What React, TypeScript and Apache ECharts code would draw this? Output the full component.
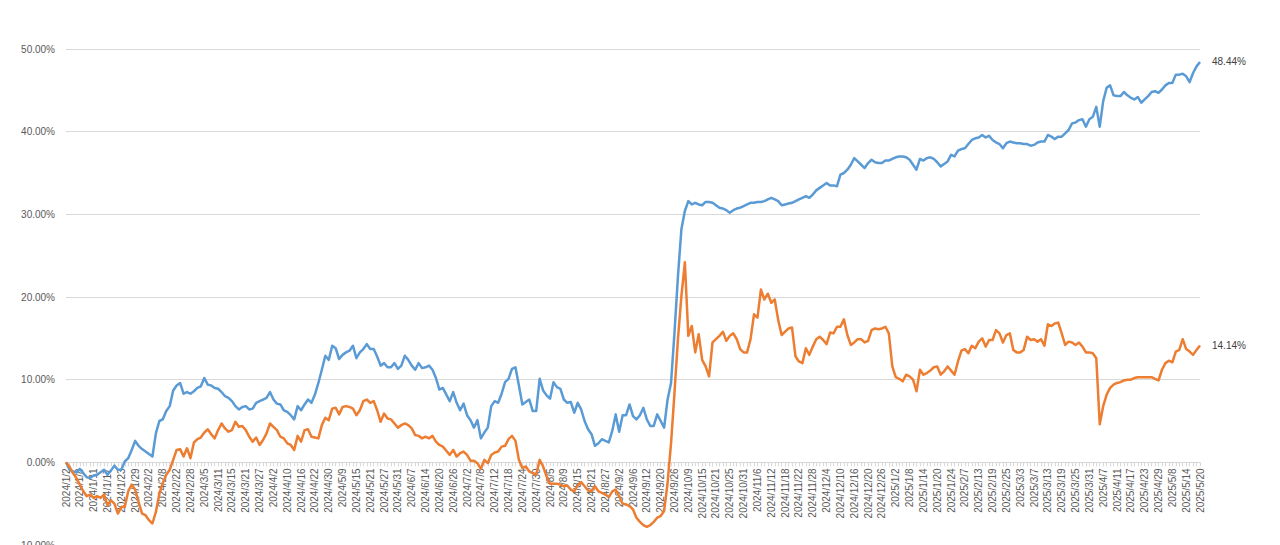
import React, { useEffect, useRef } from "react";
import * as echarts from "echarts";

const TICK_LABELS = [
  "2024/1/2", "2024/1/8", "2024/1/11", "2024/1/17", "2024/1/23", "2024/1/29", "2024/2/2", "2024/2/8",
  "2024/2/22", "2024/2/28", "2024/3/5", "2024/3/11", "2024/3/15", "2024/3/21", "2024/3/27", "2024/4/2",
  "2024/4/10", "2024/4/16", "2024/4/22", "2024/4/30", "2024/5/9", "2024/5/15", "2024/5/21", "2024/5/27",
  "2024/5/31", "2024/6/7", "2024/6/14", "2024/6/20", "2024/6/26", "2024/7/2", "2024/7/8", "2024/7/12",
  "2024/7/18", "2024/7/24", "2024/7/30", "2024/8/5", "2024/8/9", "2024/8/15", "2024/8/21", "2024/8/27",
  "2024/9/2", "2024/9/6", "2024/9/12", "2024/9/20", "2024/9/26", "2024/10/9", "2024/10/15", "2024/10/21",
  "2024/10/25", "2024/10/31", "2024/11/6", "2024/11/12", "2024/11/18", "2024/11/22", "2024/11/28", "2024/12/4",
  "2024/12/10", "2024/12/16", "2024/12/20", "2024/12/26", "2025/1/2", "2025/1/8", "2025/1/14", "2025/1/20",
  "2025/1/24", "2025/2/7", "2025/2/13", "2025/2/19", "2025/2/25", "2025/3/3", "2025/3/7", "2025/3/13",
  "2025/3/19", "2025/3/25", "2025/3/31", "2025/4/7", "2025/4/11", "2025/4/17", "2025/4/23", "2025/4/29",
  "2025/5/8", "2025/5/14", "2025/5/20",
];

const HOLIDAYS = [
  "2024/1/1", "2024/2/9", "2024/2/12", "2024/2/13", "2024/2/14", "2024/2/15", "2024/2/16",
  "2024/4/4", "2024/4/5", "2024/5/1", "2024/5/2", "2024/5/3", "2024/6/10", "2024/9/16", "2024/9/17",
  "2024/10/1", "2024/10/2", "2024/10/3", "2024/10/4", "2024/10/7", "2025/1/1", "2025/1/28", "2025/1/29",
  "2025/1/30", "2025/1/31", "2025/2/3", "2025/2/4", "2025/4/4", "2025/5/1", "2025/5/2", "2025/5/5",
];

// Cumulative return (%) — blue series
const SERIES_A = [
  0, -0.9, -1.1, -1.2, -0.8, -1.3, -1.8, -1.9, -1.6, -1.5,
  -1.2, -0.9, -1.5, -1.0, -0.4, -0.9, -0.9, 0.1, 0.5, 1.5,
  2.6, 2.0, 1.6, 1.3, 1.0, 0.7, 3.5, 5.0, 5.2, 6.2,
  6.8, 8.7, 9.3, 9.6, 8.3, 8.5, 8.3, 8.6, 9.0, 9.2,
  10.2, 9.4, 9.3, 9.0, 8.9, 8.5, 8.0, 7.8, 7.4, 6.8,
  6.4, 6.7, 6.8, 6.4, 6.5, 7.2, 7.4, 7.6, 7.8, 8.5,
  7.6, 7.1, 7.0, 6.3, 6.1, 5.7, 5.2, 6.8, 6.3, 7.0,
  7.6, 7.2, 8.2, 9.6, 11.2, 12.9, 12.4, 14.1, 13.8, 12.5,
  13.0, 13.3, 13.5, 14.1, 12.6, 13.3, 13.7, 14.3, 13.7, 13.7,
  12.8, 11.7, 12.0, 11.5, 11.5, 12.0, 11.3, 11.7, 12.9, 12.4,
  11.7, 11.2, 12.0, 11.4, 11.5, 11.7, 11.2, 10.2, 8.8, 9.0,
  8.2, 7.4, 8.5, 7.2, 6.3, 7.1, 5.7, 5.1, 4.2, 5.1,
  2.9, 3.6, 4.2, 6.8, 7.4, 7.2, 8.3, 9.7, 10.1, 11.3,
  11.5, 9.3, 7.0, 7.3, 7.6, 6.2, 6.2, 10.1, 8.7, 8.1,
  7.7, 9.7, 9.1, 8.9, 7.6, 7.2, 7.3, 6.0, 7.2, 6.4,
  5.0, 4.0, 3.4, 2.0, 2.3, 2.8, 2.6, 2.4, 3.8, 5.8,
  3.7, 5.7, 5.7, 7.0, 5.6, 5.2, 5.7, 6.6, 5.2, 4.4,
  4.4, 5.8, 5.0, 4.2, 7.6, 9.6, 15.7, 22.5, 28.2, 30.4,
  31.6, 31.2, 31.4, 31.2, 31.1, 31.5, 31.5, 31.4, 31.1, 30.8,
  30.7, 30.5, 30.2, 30.5, 30.7, 30.8, 31.0, 31.2, 31.4, 31.4,
  31.5, 31.5, 31.6, 31.8, 32.0, 31.8, 31.6, 31.1, 31.2, 31.3,
  31.4, 31.6, 31.8, 32.0, 32.2, 32.0, 32.4, 32.9, 33.2, 33.5,
  33.8, 33.5, 33.5, 33.4, 34.8, 35.0, 35.4, 36.0, 36.8, 36.4,
  36.0, 35.6, 36.2, 36.6, 36.3, 36.2, 36.2, 36.5, 36.5, 36.7,
  36.9, 37.0, 37.0, 36.9, 36.6, 36.0, 35.4, 36.7, 36.5, 36.8,
  36.9, 36.7, 36.3, 35.8, 36.1, 36.4, 37.2, 37.0, 37.7, 37.9,
  38.0, 38.5, 39.0, 39.2, 39.3, 39.6, 39.3, 39.5, 39.0, 38.7,
  38.5, 38.0, 38.6, 38.8, 38.7, 38.6, 38.6, 38.5, 38.5, 38.3,
  38.4, 38.7, 38.8, 38.8, 39.6, 39.4, 39.1, 39.4, 39.4, 39.8,
  40.2, 41.0, 41.1, 41.4, 41.5, 40.6, 41.5, 41.8, 43.0, 40.6,
  43.7, 45.3, 45.6, 44.4, 44.3, 44.3, 44.8, 44.4, 44.1, 43.9,
  44.2, 43.5, 43.9, 44.3, 44.8, 44.9, 44.7, 45.1, 45.6, 45.9,
  45.9, 46.9, 46.9, 47.0, 46.7, 46.0, 47.1, 47.9, 48.44,
];

// Cumulative return (%) — orange series
const SERIES_B = [
  0, -0.5, -1.3, -1.9, -2.7, -3.5, -4.1, -3.9, -4.3, -4.1,
  -4.3, -3.9, -5.2, -4.6, -5.0, -6.2, -5.4, -5.4, -3.5, -2.7,
  -3.3, -4.8, -6.2, -6.4, -7.0, -7.4, -6.0, -3.8, -2.5, -1.5,
  -0.9, 0.3, 1.5, 1.6, 0.7, 1.7, 0.5, 2.4, 2.8, 3.0,
  3.6, 4.0, 3.4, 2.9, 3.9, 4.7, 4.1, 3.7, 3.9, 4.9,
  4.3, 4.4, 3.9, 3.1, 2.5, 3.0, 2.1, 2.7, 3.5, 4.7,
  4.3, 3.9, 3.1, 2.9, 2.3, 2.1, 1.5, 3.2, 2.5, 3.9,
  4.0, 3.1, 3.0, 2.9, 4.5, 5.4, 5.1, 6.5, 6.6, 5.8,
  6.7, 6.8, 6.7, 6.5, 5.7, 6.3, 7.4, 7.6, 7.2, 7.4,
  6.3, 4.9, 5.9, 5.3, 5.2, 4.7, 4.2, 4.5, 4.7, 4.5,
  4.1, 3.3, 3.2, 2.9, 3.1, 2.9, 3.2, 2.5, 2.1, 1.9,
  1.4, 0.9, 1.5, 0.7, 1.1, 1.3, 0.9, 0.2, 0.2, -0.1,
  -0.8, 0.3, -0.1, 0.9, 1.2, 1.3, 1.9, 2.0, 2.8, 3.2,
  2.6, 0.3, -0.7, -0.5, -1.1, -1.3, -1.5, 0.3, -0.5, -1.7,
  -2.6, -2.6, -2.6, -2.7, -2.9, -2.8, -3.3, -3.5, -2.8, -2.4,
  -2.9, -3.4, -3.5, -2.9, -3.5, -3.7, -3.9, -4.2, -3.5, -3.3,
  -4.1, -5.0, -5.1, -5.3, -5.7, -6.7, -7.2, -7.6, -7.8, -7.6,
  -7.2, -6.7, -6.5, -5.9, -2.5, 2.3, 8.4, 14.9, 20.1, 24.2,
  15.3, 16.5, 13.3, 15.5, 12.4, 11.6, 10.4, 14.5, 14.9, 15.3,
  15.8, 14.7, 15.3, 15.6, 14.9, 13.7, 13.3, 13.3, 14.9, 17.9,
  17.5, 20.9, 19.7, 20.4, 19.3, 19.7, 17.2, 15.4, 15.8, 16.2,
  16.3, 12.8, 12.2, 12.0, 13.8, 13.0, 14.0, 14.9, 15.2, 14.8,
  14.3, 15.7, 15.6, 16.4, 16.4, 17.3, 15.4, 14.2, 14.5, 14.9,
  14.9, 14.5, 14.7, 16.0, 16.2, 16.1, 16.2, 16.4, 15.6, 11.6,
  10.3, 10.1, 9.8, 10.6, 10.4, 10.0, 8.6, 11.2, 10.6, 10.8,
  11.1, 11.5, 11.6, 10.6, 11.0, 11.6, 11.1, 10.6, 12.2, 13.5,
  13.7, 13.2, 14.1, 13.8, 14.6, 15.0, 14.0, 14.8, 14.8, 16.0,
  15.6, 14.5, 15.4, 15.6, 13.6, 13.3, 13.3, 13.6, 15.2, 14.8,
  14.9, 14.6, 14.9, 14.1, 16.7, 16.5, 16.8, 16.9, 15.6, 14.2,
  14.6, 14.5, 14.2, 14.5, 14.0, 13.3, 13.3, 13.2, 12.6, 4.6,
  6.8, 8.2, 9.0, 9.4, 9.6, 9.7, 9.9, 10.0, 10.0, 10.2,
  10.3, 10.3, 10.3, 10.3, 10.3, 10.1, 9.9, 11.2, 12.0, 12.3,
  12.1, 13.4, 13.6, 14.9, 13.7, 13.4, 13.0, 13.6, 14.14,
];

const Y_MIN = -10;
const Y_MAX = 50;
const Y_STEP = 10;

function parseDate(s: string): Date {
  const [y, m, d] = s.split("/").map(Number);
  return new Date(y, m - 1, d);
}
function fmtDate(d: Date): string {
  return `${d.getFullYear()}/${d.getMonth() + 1}/${d.getDate()}`;
}

// Category axis: every 4th entry is a printed tick label; in-between trading days fill the gaps.
function buildCategories(): string[] {
  const hol = new Set(HOLIDAYS);
  const out: string[] = [];
  for (let k = 0; k < TICK_LABELS.length - 1; k++) {
    out.push(TICK_LABELS[k]);
    const a = parseDate(TICK_LABELS[k]);
    const b = parseDate(TICK_LABELS[k + 1]);
    const trading: string[] = [];
    const other: string[] = [];
    const d = new Date(a.getTime());
    d.setDate(d.getDate() + 1);
    while (d < b) {
      const s = fmtDate(d);
      const wd = d.getDay();
      if (wd !== 0 && wd !== 6 && !hol.has(s)) trading.push(s);
      else other.push(s);
      d.setDate(d.getDate() + 1);
    }
    const mid = trading.slice(0, 3);
    let j = 0;
    while (mid.length < 3 && j < other.length) mid.push(other[j++]);
    let n = 0;
    while (mid.length < 3) mid.push(`${TICK_LABELS[k]}-${++n}`);
    out.push(...mid);
  }
  out.push(TICK_LABELS[TICK_LABELS.length - 1]);
  return out;
}

const FONT = "'Liberation Sans', Arial, sans-serif";
const GRID_TOP = 49;
const GRID_HEIGHT = 496;
// distance from the grid bottom (Y_MIN) up to the zero line
const ZERO_OFFSET = (GRID_HEIGHT * (0 - Y_MIN)) / (Y_MAX - Y_MIN);

function endLabel(values: number[]) {
  const last = values[values.length - 1];
  return {
    show: true,
    distance: 12,
    formatter: () => `${last.toFixed(2)}%`,
    color: "#404040",
    fontSize: 10,
    fontFamily: FONT,
  };
}

export default function App() {
  const ref = useRef<HTMLDivElement>(null);

  useEffect(() => {
    document.body.style.margin = "0";
    document.body.style.overflow = "hidden";
    if (!ref.current) return;
    const chart = echarts.init(ref.current, undefined, { renderer: "svg" });
    const categories = buildCategories();
    chart.setOption({
      animation: false,
      backgroundColor: "#ffffff",
      grid: { left: 66, right: 80, top: GRID_TOP, height: GRID_HEIGHT, containLabel: false },
      xAxis: {
        type: "category",
        data: categories,
        boundaryGap: false,
        position: "bottom",
        offset: -ZERO_OFFSET,
        axisLine: { show: true, onZero: false, lineStyle: { color: "#d9d9d9", width: 1 } },
        axisTick: { show: true, interval: 0, length: 4, lineStyle: { color: "#d9d9d9" } },
        axisLabel: {
          interval: 3,
          rotate: 90,
          margin: 6,
          fontSize: 10,
          color: "#595959",
          fontFamily: FONT,
        },
        splitLine: { show: false },
      },
      yAxis: {
        type: "value",
        min: Y_MIN,
        max: Y_MAX,
        interval: Y_STEP,
        axisLine: { show: false },
        axisTick: { show: false },
        axisLabel: {
          margin: 11,
          fontSize: 10,
          color: "#595959",
          fontFamily: FONT,
          formatter: (v: number) => `${v.toFixed(2)}%`,
        },
        splitLine: { show: true, lineStyle: { color: "#d9d9d9", width: 1 } },
      },
      series: [
        {
          type: "line",
          data: SERIES_A,
          showSymbol: false,
          symbol: "none",
          lineStyle: { color: "#5B9BD5", width: 2.5, join: "round" },
          itemStyle: { color: "#5B9BD5" },
          endLabel: endLabel(SERIES_A),
          z: 2,
        },
        {
          type: "line",
          data: SERIES_B,
          showSymbol: false,
          symbol: "none",
          lineStyle: { color: "#ED7D31", width: 2.5, join: "round" },
          itemStyle: { color: "#ED7D31" },
          endLabel: endLabel(SERIES_B),
          z: 3,
        },
      ],
    });
    return () => chart.dispose();
  }, []);

  return <div ref={ref} style={{ width: 1280, height: 700 }} />;
}
